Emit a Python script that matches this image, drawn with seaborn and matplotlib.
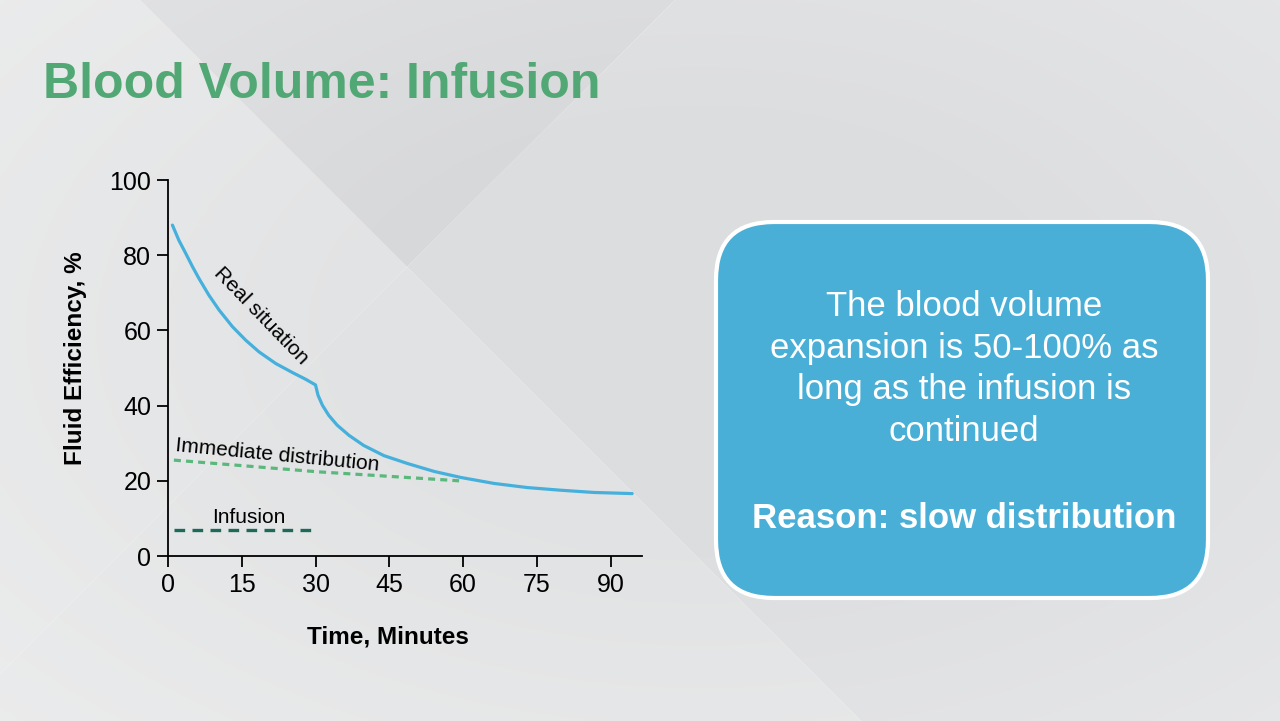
import numpy as np
import pandas as pd
import seaborn as sns
import matplotlib.pyplot as plt
from matplotlib.patches import FancyBboxPatch, Polygon

# values
real_t = [0.9, 2.2, 3.6, 5.0, 6.3, 8.3, 10.4, 13.1, 15.8, 18.5, 21.9, 25.3, 28.0, 30.0,
          30.5, 31.4, 32.7, 34.4, 36.8, 39.8, 43.9, 48.7, 54.1, 59.5, 66.3, 73.1, 79.8, 86.6, 94.4]
real_v = [88.0, 84.0, 80.5, 76.9, 73.8, 69.4, 65.4, 61.0, 57.4, 54.3, 51.2, 48.8, 47.0, 45.5,
          42.8, 40.1, 37.4, 34.8, 32.1, 29.4, 26.7, 24.6, 22.5, 20.9, 19.3, 18.2, 17.5, 16.9, 16.6]
imm_t = [1.2, 30.4, 59.2]
imm_v = [25.5, 22.4, 20.0]
inf_t = [1.2, 29.0]
inf_v = [7.0, 7.0]
x_ticks = [0, 15, 30, 45, 60, 75, 90]
y_ticks = [0, 20, 40, 60, 80, 100]

real_df = pd.DataFrame({"t": real_t, "v": real_v})
imm_df = pd.DataFrame({"t": imm_t, "v": imm_v})
inf_df = pd.DataFrame({"t": inf_t, "v": inf_v})

sns.set_style("ticks")
plt.rcParams["font.family"] = ["Liberation Sans", "DejaVu Sans"]
plt.rcParams["text.color"] = "black"
plt.rcParams["axes.labelcolor"] = "black"
plt.rcParams["xtick.color"] = "black"
plt.rcParams["ytick.color"] = "black"

fig = plt.figure(figsize=(12.8, 7.21), dpi=100)

# slide background (pixel coordinates, y up)
bg = fig.add_axes([0, 0, 1, 1])
bg.set_xlim(0, 1280)
bg.set_ylim(0, 721)
bg.axis("off")
H = 721
regions = [
    ([(0, 0), (140, 0), (407, 267), (0, 674)], "#e2e3e4"),
    ([(140, 0), (675, 0), (407, 267)], "#d7d8da"),
    ([(675, 0), (1280, 0), (1280, 721), (861, 721), (407, 267)], "#dcdddf"),
    ([(407, 267), (861, 721), (0, 721), (0, 674)], "#e1e2e3"),
]
for pts, col in regions:
    bg.add_patch(Polygon([(x, H - y) for x, y in pts], closed=True, facecolor=col, edgecolor="none", zorder=0))
yy, xx = np.mgrid[0:721:3, 0:1280:3]
d = np.clip(np.hypot((xx - 700) / 700, (yy - 330) / 420) - 0.45, 0, None)
alpha = np.clip(d * 0.35, 0, 0.35)
overlay = np.zeros(alpha.shape + (4,))
overlay[..., :3] = 1.0
overlay[..., 3] = alpha
bg.imshow(overlay, extent=(0, 1280, 0, 721), origin="upper", aspect="auto", zorder=1)

bg.text(43, H - 85, "Blood Volume: Infusion", fontsize=36, fontweight="bold",
        color="#52a874", ha="left", va="center", zorder=3)

box = FancyBboxPatch((716, H - 598), 1208 - 716, 598 - 222,
                     boxstyle="round,pad=0,rounding_size=58",
                     facecolor="#4aafd6", edgecolor="white", linewidth=3, zorder=2)
bg.add_patch(box)
bg.text(964, H - 369, "The blood volume\nexpansion is 50-100% as\nlong as the infusion is\ncontinued",
        fontsize=25, color="white", ha="center", va="center", linespacing=1.33, zorder=3)
bg.text(964, H - 518, "Reason: slow distribution", fontsize=25, fontweight="bold",
        color="white", ha="center", va="center", zorder=3)

# chart
ax = fig.add_axes([168 / 1280, 1 - 556 / 721, (642 - 168) / 1280, (556 - 180) / 721])
ax.patch.set_alpha(0)

sns.lineplot(data=real_df, x="t", y="v", ax=ax, color="#45b0dc", linewidth=2.3)
sns.lineplot(data=imm_df, x="t", y="v", ax=ax, color="#5ab87c", linewidth=2.3,
             linestyle=(0, (2.2, 1.6)))
sns.lineplot(data=inf_df, x="t", y="v", ax=ax, color="#1d6a5b", linewidth=2.4,
             linestyle=(0, (3.2, 2.2)))

ax.text(18.9, 64.0, "Real situation", fontsize=15, rotation=-46, rotation_mode="anchor",
        ha="center", va="center")
ax.text(22.3, 26.8, "Immediate distribution", fontsize=15, rotation=-5.5, rotation_mode="anchor",
        ha="center", va="center")
ax.text(16.5, 10.2, "Infusion", fontsize=15, ha="center", va="center")

ax.set_xlim(0, 96.4)
ax.set_ylim(0, 100)
ax.set_xticks(x_ticks)
ax.set_yticks(y_ticks)
ax.tick_params(labelsize=18, length=8, width=1.3, pad=4, colors="black")
for s in ["top", "right"]:
    ax.spines[s].set_visible(False)
for s in ["left", "bottom"]:
    ax.spines[s].set_linewidth(1.3)
    ax.spines[s].set_color("black")

ax.set_xlabel("Time, Minutes", fontsize=17.5, fontweight="bold")
ax.set_ylabel("Fluid Efficiency, %", fontsize=17.5, fontweight="bold")
ax.xaxis.set_label_coords(0.464, -0.186)
ax.yaxis.set_label_coords(-0.17, 0.527)

fig.savefig("out.png", dpi=100)
